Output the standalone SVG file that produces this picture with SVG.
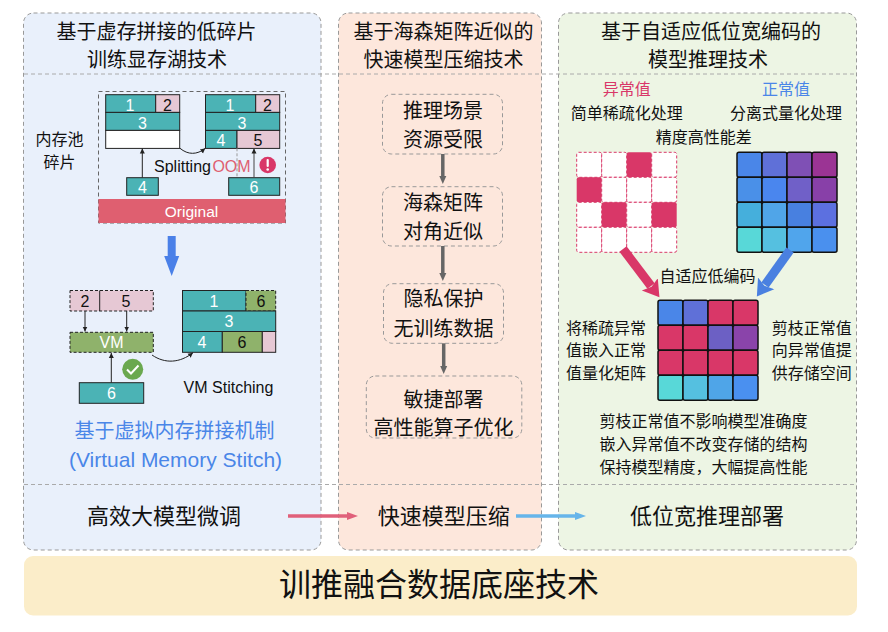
<svg xmlns="http://www.w3.org/2000/svg" width="888" height="632" viewBox="0 0 888 632">
<defs>
<style>
text{font-family:"Noto Sans CJK SC","Liberation Sans",sans-serif;fill:#111;text-anchor:middle}
.t20{font-size:20px}.t16{font-size:16px}.t22{font-size:22px}.t32{font-size:32px}
.lat{font-family:"Liberation Sans","Noto Sans CJK SC",sans-serif}
.num{font-family:"Liberation Sans",sans-serif;font-size:16px}
.w{fill:#fff}
.blue{fill:#4a86e8}.red{fill:#d93768}
.panel{stroke:#999;stroke-width:1;stroke-dasharray:4 3}
.sep{stroke:#aaa;stroke-width:1;stroke-dasharray:4 3;fill:none}
.box{fill:none;stroke:#999;stroke-width:1;stroke-dasharray:4 3}
.teal{fill:#4bb3b5;stroke:#222;stroke-width:1}
.pk{fill:#e6c8d4;stroke:#222;stroke-width:1}
.blank{fill:#fff;stroke:#222;stroke-width:1}
.vm{fill:#8fb26b;stroke:#222;stroke-width:1;stroke-dasharray:3 2}
.pkd{fill:#e6c8d4;stroke:#222;stroke-width:1;stroke-dasharray:3 2}
.thin{fill:none;stroke:#222;stroke-width:1}
.gray{fill:none;stroke:#666;stroke-width:3.5}
.cp{fill:#fff;stroke:#d93768;stroke-width:1;stroke-dasharray:3 2}
.cf{fill:#d93768}
.g rect{stroke:#111;stroke-width:1.5}
</style>
<marker id="mThin" markerUnits="userSpaceOnUse" markerWidth="6" markerHeight="6" refX="5" refY="3" orient="auto"><path d="M0,0.5 L5,3 L0,5.5 Z" fill="#222"/></marker>
<marker id="mGray" markerUnits="userSpaceOnUse" markerWidth="9" markerHeight="8" refX="1" refY="4" orient="auto"><path d="M0,0.5 L8,4 L0,7.5 Z" fill="#666"/></marker>
<marker id="mPink" markerUnits="userSpaceOnUse" markerWidth="17" markerHeight="22" refX="2" refY="11" orient="auto"><path d="M0,1 L16,11 L0,21 L3,11 Z" fill="#d93768"/></marker>
<marker id="mBlue" markerUnits="userSpaceOnUse" markerWidth="17" markerHeight="22" refX="2" refY="11" orient="auto"><path d="M0,1 L16,11 L0,21 L3,11 Z" fill="#4a80e0"/></marker>
<marker id="mBig" markerUnits="userSpaceOnUse" markerWidth="21" markerHeight="16" refX="1" refY="8" orient="auto"><path d="M0,0.5 L20,8 L0,15.5 Z" fill="#4a80e8"/></marker>
<marker id="mRed" markerUnits="userSpaceOnUse" markerWidth="12" markerHeight="9" refX="1" refY="4.5" orient="auto"><path d="M0,0.5 L11,4.5 L0,8.5 Z" fill="#e0607a"/></marker>
<marker id="mSky" markerUnits="userSpaceOnUse" markerWidth="12" markerHeight="9" refX="1" refY="4.5" orient="auto"><path d="M0,0.5 L11,4.5 L0,8.5 Z" fill="#66b5ea"/></marker>
</defs>
<rect width="888" height="632" fill="#fff"/>

<g id="panels">
<rect class="panel" x="23.5" y="13" width="297.5" height="537" rx="10" fill="#e9f0fb"/>
<rect class="panel" x="338.5" y="13" width="203" height="537" rx="10" fill="#fde7dc"/>
<rect class="panel" x="558.5" y="13" width="298" height="537" rx="10" fill="#edf5e4"/>
<path class="sep" d="M24,74 H857 M24,484.5 H857"/>
</g>
<g id="band"><rect x="24" y="556" width="833" height="59.5" rx="9" fill="#fbedc9"/>
<text class="t32" x="439" y="596">训推融合数据底座技术</text></g>

<g id="titles">
<text class="t20" x="156.500" y="39">基于虚存拼接的低碎片</text>
<text class="t20" x="157" y="67">训练显存湖技术</text>
<text class="t20" x="443.500" y="39">基于海森矩阵近似的</text>
<text class="t20" x="443.500" y="67">快速模型压缩技术</text>
<text class="t20" x="711" y="39">基于自适应低位宽编码的</text>
<text class="t20" x="708" y="67">模型推理技术</text>
</g>

<g id="memory-pool">
<rect x="98.500" y="91.500" width="187" height="131.500" fill="none" stroke="#666" stroke-dasharray="4 3"/>
<text class="t16" x="59.500" y="145">内存池</text>
<text class="t16" x="59.500" y="167.500">碎片</text>
<rect x="98.500" y="199" width="187" height="24" fill="#df5f70"/>
<text class="lat w" font-size="15.500" x="191.500" y="216.500">Original</text>
<text class="lat" font-size="16" x="182.500" y="171.500">Splitting</text>
<text class="lat" font-size="16" x="231.500" y="171.500" style="fill:#df5f70">OOM</text>
<circle cx="267.700" cy="165" r="8.300" fill="#d93768"/>
<path d="M267.700,160 V166" stroke="#fff" stroke-width="2.200" stroke-linecap="round"/><circle cx="267.700" cy="169.500" r="1.300" fill="#fff"/>
</g>
<g id="block-before">
<rect class="teal" x="105.700" y="94.700" width="50" height="17.700"/>
<rect class="pk" x="155.700" y="94.700" width="24" height="17.700"/>
<rect class="teal" x="105.700" y="112.400" width="74" height="18"/>
<rect class="blank" x="105.700" y="130.400" width="74" height="18"/>
<text class="num w" x="130" y="110.500">1</text><text class="num" x="167.500" y="110.500">2</text><text class="num w" x="142.500" y="128.500">3</text>
</g>
<g id="block-after">
<rect class="teal" x="205.500" y="94.700" width="50.200" height="17.700"/>
<rect class="pk" x="255.700" y="94.700" width="24" height="17.700"/>
<rect class="teal" x="205.500" y="112.400" width="74.200" height="18"/>
<rect class="teal" x="205.500" y="130.400" width="31.500" height="18"/>
<rect class="pk" x="237" y="130.400" width="42.700" height="18"/>
<text class="num w" x="230" y="110.500">1</text><text class="num" x="267.500" y="110.500">2</text><text class="num w" x="242" y="128.500">3</text><text class="num w" x="221" y="146">4</text><text class="num" x="258" y="146">5</text>
</g>
<g id="piece-4"><rect class="teal" x="126.700" y="177.700" width="31.600" height="17.600"/><text class="num w" x="142.500" y="193.300">4</text></g>
<g id="piece-6"><rect class="teal" x="228.700" y="177.700" width="51" height="17.600"/><text class="num w" x="254" y="193.300">6</text></g>

<g id="vm-source">
<rect class="pkd" x="70" y="290.500" width="83.300" height="20.500"/>
<path class="thin" d="M99.700,290.500 V311"/>
<text class="num" x="85" y="306.500">2</text><text class="num" x="126" y="306.500">5</text>
</g>
<g id="vm"><rect class="vm" x="70" y="332.300" width="83.300" height="20"/><text class="num w" x="111.500" y="348">VM</text></g>
<g id="piece-6b"><rect class="teal" x="79.300" y="382.700" width="64.400" height="20.600"/><text class="num w" x="111.500" y="399">6</text></g>
<g id="check"><circle cx="132.700" cy="369.300" r="10.500" fill="#6aa84f"/><path d="M127,369.500 L131,373.500 L138.500,365.500" fill="none" stroke="#fff" stroke-width="2"/></g>
<g id="block-stitched">
<rect class="teal" x="182.500" y="290.500" width="63.500" height="20.500"/>
<rect class="vm" x="246" y="290.500" width="29.700" height="20.500"/>
<rect class="teal" x="182.500" y="311" width="93.200" height="20.500"/>
<rect class="teal" x="182.500" y="331.500" width="39.800" height="20.800"/>
<rect x="222.300" y="331.500" width="40" height="20.800" fill="#8fb26b" stroke="#222"/>
<rect class="pk" x="262.300" y="331.500" width="13.400" height="20.800"/>
<text class="num w" x="214" y="306.500">1</text><text class="num" x="261" y="306.500">6</text><text class="num w" x="229" y="327">3</text><text class="num w" x="202" y="348">4</text><text class="num" x="242" y="348">6</text>
</g>
<g id="vm-caption">
<text class="lat" font-size="16" x="228.500" y="393">VM Stitching</text>
<text class="t20 blue" x="174.500" y="438">基于虚拟内存拼接机制</text>
<text class="lat blue" font-size="21" x="175.500" y="466.500">(Virtual Memory Stitch)</text>
</g>

<g id="n-scene"><rect class="box" x="382.500" y="94.300" width="120" height="59.700" rx="9"/><text class="t20" x="443" y="118">推理场景</text><text class="t20" x="443" y="146.500">资源受限</text></g>
<g id="n-hessian"><rect class="box" x="382.500" y="186.700" width="120" height="59.300" rx="9"/><text class="t20" x="443" y="210">海森矩阵</text><text class="t20" x="443" y="238.500">对角近似</text></g>
<g id="n-privacy"><rect class="box" x="383.500" y="283.700" width="120" height="59.600" rx="9"/><text class="t20" x="443.500" y="306">隐私保护</text><text class="t20" x="443.500" y="335.500">无训练数据</text></g>
<g id="n-deploy"><rect class="box" x="366.300" y="376" width="155.500" height="62" rx="9"/><text class="t20" x="443.500" y="406.500">敏捷部署</text><text class="t20" x="443.500" y="435">高性能算子优化</text></g>

<g id="outlier-labels">
<text class="t16 red" x="626.700" y="95">异常值</text>
<text class="t16 blue" x="786" y="95">正常值</text>
<text class="t16" x="626.700" y="118.500">简单稀疏化处理</text>
<text class="t16" x="786" y="118.500">分离式量化处理</text>
<text class="t16" x="703.700" y="142.500">精度高性能差</text>
<text class="t16" x="707.500" y="282">自适应低编码</text>
</g>
<g id="grid-sparse">
<rect class="cp" x="576.700" y="152.300" width="25" height="25" rx="2"/><rect class="cp" x="601.700" y="152.300" width="25" height="25" rx="2"/><rect class="cf" x="626.700" y="152.300" width="25" height="25" rx="2"/><rect class="cp" x="651.700" y="152.300" width="25" height="25" rx="2"/>
<rect class="cf" x="576.700" y="177.300" width="25" height="25" rx="2"/><rect class="cp" x="601.700" y="177.300" width="25" height="25" rx="2"/><rect class="cp" x="626.700" y="177.300" width="25" height="25" rx="2"/><rect class="cp" x="651.700" y="177.300" width="25" height="25" rx="2"/>
<rect class="cp" x="576.700" y="202.300" width="25" height="25" rx="2"/><rect class="cf" x="601.700" y="202.300" width="25" height="25" rx="2"/><rect class="cp" x="626.700" y="202.300" width="25" height="25" rx="2"/><rect class="cf" x="651.700" y="202.300" width="25" height="25" rx="2"/>
<rect class="cp" x="576.700" y="227.300" width="25" height="25" rx="2"/><rect class="cp" x="601.700" y="227.300" width="25" height="25" rx="2"/><rect class="cp" x="626.700" y="227.300" width="25" height="25" rx="2"/><rect class="cp" x="651.700" y="227.300" width="25" height="25" rx="2"/>
</g>
<g id="grid-normal" class="g">
<rect x="737" y="152.300" width="25" height="25" rx="2" fill="#4a86e8"/><rect x="762" y="152.300" width="25" height="25" rx="2" fill="#5f70d8"/><rect x="787" y="152.300" width="25" height="25" rx="2" fill="#7f50b5"/><rect x="812" y="152.300" width="25" height="25" rx="2" fill="#9b3494"/>
<rect x="737" y="177.300" width="25" height="25" rx="2" fill="#4a90e8"/><rect x="762" y="177.300" width="25" height="25" rx="2" fill="#4a86ee"/><rect x="787" y="177.300" width="25" height="25" rx="2" fill="#7060c8"/><rect x="812" y="177.300" width="25" height="25" rx="2" fill="#8840a8"/>
<rect x="737" y="202.300" width="25" height="25" rx="2" fill="#45afdc"/><rect x="762" y="202.300" width="25" height="25" rx="2" fill="#50a5e8"/><rect x="787" y="202.300" width="25" height="25" rx="2" fill="#4880e0"/><rect x="812" y="202.300" width="25" height="25" rx="2" fill="#5c70e0"/>
<rect x="737" y="227.300" width="25" height="25" rx="2" fill="#58d8d8"/><rect x="762" y="227.300" width="25" height="25" rx="2" fill="#55c0e0"/><rect x="787" y="227.300" width="25" height="25" rx="2" fill="#50a5ec"/><rect x="812" y="227.300" width="25" height="25" rx="2" fill="#4a90ee"/>
</g>
<g id="grid-merged" class="g">
<rect x="658" y="300.300" width="25" height="25" rx="2" fill="#4a86e8"/><rect x="683" y="300.300" width="25" height="25" rx="2" fill="#5f70d8"/><rect x="708" y="300.300" width="25" height="25" rx="2" fill="#d93768"/><rect x="733" y="300.300" width="25" height="25" rx="2" fill="#d93768"/>
<rect x="658" y="325.300" width="25" height="25" rx="2" fill="#d93768"/><rect x="683" y="325.300" width="25" height="25" rx="2" fill="#d93768"/><rect x="708" y="325.300" width="25" height="25" rx="2" fill="#6c60c4"/><rect x="733" y="325.300" width="25" height="25" rx="2" fill="#8a44aa"/>
<rect x="658" y="350.300" width="25" height="25" rx="2" fill="#d93768"/><rect x="683" y="350.300" width="25" height="25" rx="2" fill="#d93768"/><rect x="708" y="350.300" width="25" height="25" rx="2" fill="#d93768"/><rect x="733" y="350.300" width="25" height="25" rx="2" fill="#d93768"/>
<rect x="658" y="375.300" width="25" height="25" rx="2" fill="#58d8d8"/><rect x="683" y="375.300" width="25" height="25" rx="2" fill="#55c0e0"/><rect x="708" y="375.300" width="25" height="25" rx="2" fill="#4fa5e8"/><rect x="733" y="375.300" width="25" height="25" rx="2" fill="#4a90f0"/>
</g>
<g id="merge-notes">
<text class="t16" x="606" y="333.500">将稀疏异常</text><text class="t16" x="606" y="356">值嵌入正常</text><text class="t16" x="606" y="378.500">值量化矩阵</text>
<text class="t16" x="811.700" y="333.500">剪枝正常值</text><text class="t16" x="811.700" y="356">向异常值提</text><text class="t16" x="811.700" y="378.500">供存储空间</text>
<text class="t16" x="703.500" y="427">剪枝正常值不影响模型准确度</text><text class="t16" x="703.500" y="450">嵌入异常值不改变存储的结构</text><text class="t16" x="703.500" y="472.500">保持模型精度，大幅提高性能</text>
</g>
<g id="stage-labels">
<text class="t22" x="164" y="524">高效大模型微调</text>
<text class="t22" x="443.700" y="524">快速模型压缩</text>
<text class="t22" x="707" y="524">低位宽推理部署</text>
</g>

<g id="connectors">
<path class="thin" d="M180,148.300 C188,155 197,155 205.300,148.300" marker-end="url(#mThin)"/>
<path class="thin" d="M142.300,177.700 V148.500" marker-end="url(#mThin)"/>
<path d="M237,148.300 V177.700" fill="none" stroke="#999" stroke-dasharray="3 2"/>
<path d="M254,177.700 V148.500" fill="none" stroke="#444" marker-end="url(#mThin)"/>
<path d="M171.700,236 V257" fill="none" stroke="#4a80e8" stroke-width="8" marker-end="url(#mBig)"/>
<path class="thin" d="M85,311 V331.500" marker-end="url(#mThin)"/>
<path class="thin" d="M126.700,311 V331.500" marker-end="url(#mThin)"/>
<path class="thin" d="M111.300,382.700 V353" marker-end="url(#mThin)"/>
<path class="thin" d="M152,355 C165,364 180,363 193,352.700" marker-end="url(#mThin)"/>
<path class="gray" d="M442.800,154 V177" marker-end="url(#mGray)"/>
<path class="gray" d="M442.800,246 V274" marker-end="url(#mGray)"/>
<path class="gray" d="M443.700,343.300 V367" marker-end="url(#mGray)"/>
<path d="M623,249 L651,286" fill="none" stroke="#d93768" stroke-width="9" marker-end="url(#mPink)"/>
<path d="M790,250 L765,285" fill="none" stroke="#4a80e0" stroke-width="9" marker-end="url(#mBlue)"/>
<path d="M288,516 H348" fill="none" stroke="#e0607a" stroke-width="3.500" marker-end="url(#mRed)"/>
<path d="M516,516 H576" fill="none" stroke="#66b5ea" stroke-width="3.500" marker-end="url(#mSky)"/>
</g>
</svg>
